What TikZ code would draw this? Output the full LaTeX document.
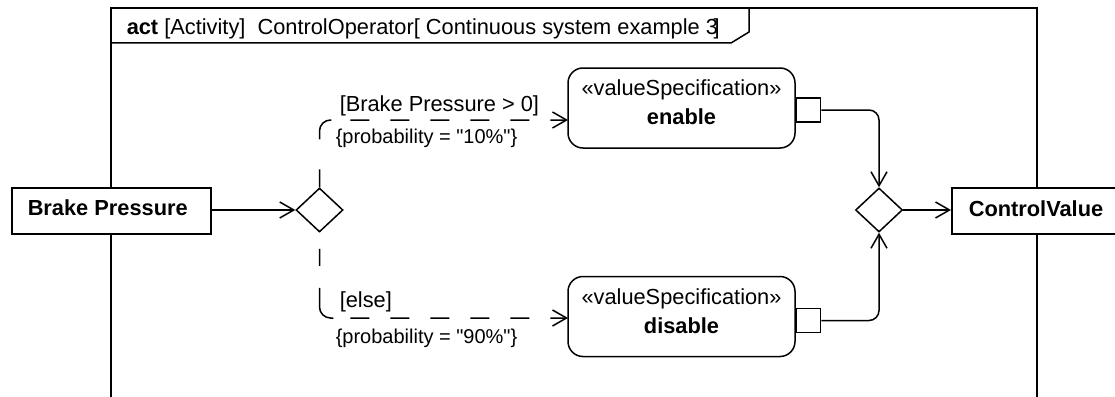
\documentclass[tikz,border=0pt]{standalone}
\usepackage{fontspec}
\setmainfont{Liberation Sans}[Ligatures=TeXOff]
\usetikzlibrary{arrows.meta,shapes.geometric}
\begin{document}
\begin{tikzpicture}[x=1pt,y=-1pt,line width=1.5pt,
  flow/.style={-{Straight Barb[length=14pt,width=16pt,line width=1.5pt]}},
  guardflow/.style={flow,rounded corners=11pt},
  txt/.style={inner sep=0pt,font=\fontsize{21.8}{26}\selectfont},
  smalltxt/.style={inner sep=0pt,font=\fontsize{20}{24}\selectfont},
  boldtxt/.style={inner sep=0pt,font=\fontsize{21.8}{26}\selectfont\bfseries},
  param/.style={draw,fill=white,rectangle,inner sep=0pt},
  action/.style={draw,fill=white,rectangle,rounded corners=15pt,inner sep=0pt,minimum width=227pt,minimum height=80pt},
  pinbox/.style={draw,fill=white,rectangle,inner sep=0pt,minimum width=24pt,minimum height=24pt},
  decision/.style={draw,fill=white,diamond,inner sep=0pt,minimum width=47pt,minimum height=44pt}]
\useasboundingbox (0,0) rectangle (1115,396);
% frame
\draw (111,400) -- (111,8) -- (1037,8) -- (1037,400);
\draw (111,43) -- (731,43) -- (749,32) -- (749,8);
\node[txt,anchor=base west] (title) at (126,35) {\textbf{act} [Activity]\ \ ControlOperator[ Continuous system example 3\kern-0.2em]};
% parameters
\node[param,minimum width=199pt,minimum height=46pt] (bp) at (111.5,211) {};
\node[boldtxt,anchor=base west] (bpt) at (27,215.5) {Brake Pressure};
\node[param,minimum width=190pt,minimum height=46pt,anchor=west] (cv) at (951,211) {};
\node[boldtxt,anchor=base west] (cvt) at (968,216.5) {ControlValue};
% decisions
\node[decision] (d1) at (319.5,210) {};
\node[decision] (d2) at (879,210) {};
% actions
\node[action] (en) at (681.5,108) {};
\node[txt,anchor=base] (enst) at (681.5,95) {«valueSpecification»};
\node[boldtxt,anchor=base] (enn) at (681.5,124) {enable};
\node[action] (di) at (681.5,316.5) {};
\node[txt,anchor=base] (dist) at (681.5,304) {«valueSpecification»};
\node[boldtxt,anchor=base] (din) at (681.5,333) {disable};
% pins
\node[pinbox,anchor=west] (pe) at (en.east |- 0,110) {};
\node[pinbox,anchor=west] (pd) at (di.east |- 0,320.5) {};
\coordinate (enin) at (568,120);
\coordinate (diin) at (568,318);
% flows
\draw[flow] (bp.east |- d1.west) -- (d1.west);
\draw[guardflow,dash pattern=on 18pt off 30pt on 26.3pt off 19pt on 19pt off 21pt on 19pt off 21pt on 19pt off 21pt on 19pt off 21pt on 19pt off 21pt on 19pt off 40pt] (d1.north) |- (enin);
\draw[guardflow,dash pattern=on 17pt off 22pt on 39.3pt off 17pt on 19pt off 21pt on 19pt off 21pt on 19pt off 21pt on 19pt off 21pt on 19pt off 21pt on 19pt off 16pt,dash phase=314.3pt] (d1.south) |- (diin);
\draw[flow,rounded corners=10pt] (pe.east) -| (d2.north);
\draw[flow,rounded corners=10pt] (pd.east) -| (d2.south);
\draw[flow] (d2.east) -- (cv.west |- d2.east);
% guard labels
\node[txt,anchor=base west] (g1) at (339,111) {[Brake Pressure > 0]};
\node[smalltxt,anchor=base west] (p1) at (335,143) {\{probability = "10\%"\}};
\node[txt,anchor=base west] (g2) at (339,307) {[else]};
\node[smalltxt,anchor=base west] (p2) at (335,343) {\{probability = "90\%"\}};
\end{tikzpicture}
\end{document}
